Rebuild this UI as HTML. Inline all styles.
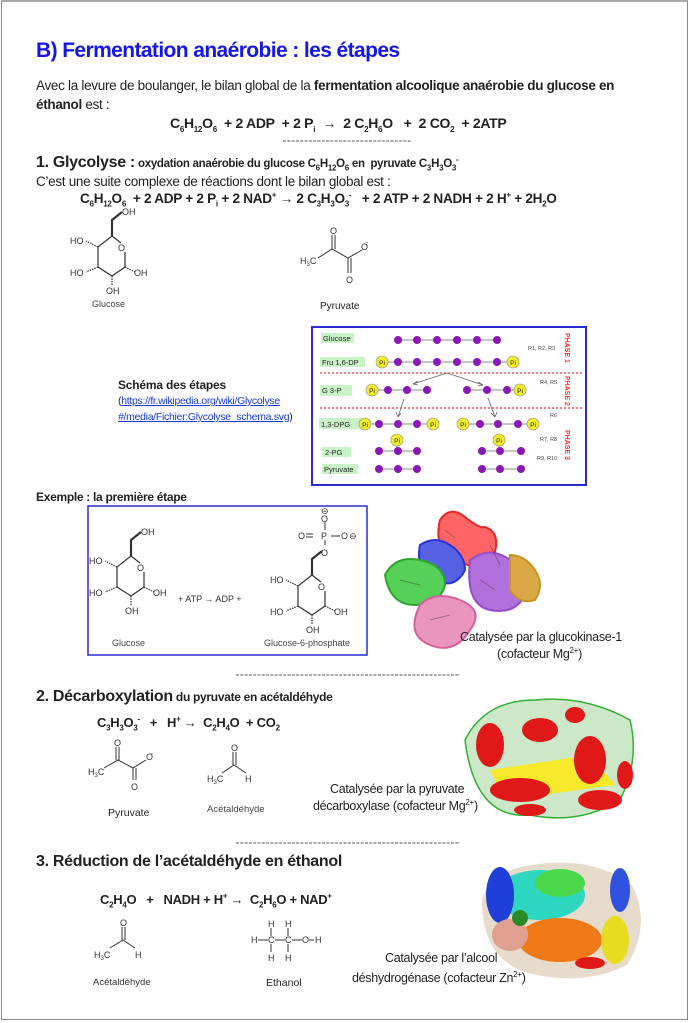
<!DOCTYPE html>
<html><head><meta charset="utf-8"><style>
body{margin:0;width:691px;height:1023px;background:#fff;position:relative;overflow:hidden;font-family:"Liberation Sans",sans-serif;color:#222}
.t{position:absolute;white-space:nowrap;font-size:12px;line-height:1}
.b{font-weight:bold}
sub,sup{font-size:8px;line-height:0}
svg text{font-family:"Liberation Sans",sans-serif}
</style></head><body>
<div style="position:absolute;left:1px;top:0;width:687px;height:1020px;border:1px solid #888;border-top:2px solid #aaa;box-sizing:border-box"></div>

<div class="t b" style="left:36px;top:40px;font-size:21px;color:#1515f0;letter-spacing:-0.6px">B) Fermentation anaérobie : les étapes</div>
<div class="t" style="left:36px;top:79px;font-size:13.5px;letter-spacing:-0.3px">Avec la levure de boulanger, le bilan global de la <b>fermentation alcoolique anaérobie du glucose en</b></div>
<div class="t" style="left:36px;top:98px;font-size:13.5px;letter-spacing:-0.3px"><b>éthanol</b> est :</div>
<div class="t b" style="left:170px;top:116px;font-size:14px;letter-spacing:-0.3px">C<sub>6</sub>H<sub>12</sub>O<sub>6</sub> &nbsp;+ 2 ADP &nbsp;+ 2 P<sub>i</sub> &nbsp;→ &nbsp;2 C<sub>2</sub>H<sub>6</sub>O &nbsp; + &nbsp;2 CO<sub>2</sub> &nbsp;+ 2ATP</div>

<div class="t" style="left:36px;top:155px;letter-spacing:-0.3px"><b style="font-size:16px">1. Glycolyse :</b> <b style="font-size:11.5px">oxydation anaérobie du glucose C<sub>6</sub>H<sub>12</sub>O<sub>6</sub> en &nbsp;pyruvate C<sub>3</sub>H<sub>3</sub>O<sub>3</sub><sup>-</sup></b></div>
<div class="t" style="left:36px;top:175px;font-size:13.5px;letter-spacing:-0.3px">C’est une suite complexe de réactions dont le bilan global est :</div>
<div class="t b" style="left:80px;top:192px;font-size:13.6px;letter-spacing:-0.3px">C<sub>6</sub>H<sub>12</sub>O<sub>6</sub> &nbsp;+ 2 ADP + 2 P<sub>i</sub> + 2 NAD<sup>+</sup> → 2 C<sub>3</sub>H<sub>3</sub>O<sub>3</sub><sup>-</sup> &nbsp; + 2 ATP + 2 NADH + 2 H<sup>+</sup> + 2H<sub>2</sub>O</div>

<svg style="position:absolute;left:0;top:0" width="691" height="1023">
<defs>
<g id="gl" stroke="#333" stroke-width="1.2" fill="none">
<path d="M112,236 L121,243 M125,252 L125,267 L112,276 L98,267 L98,247 L112,236"/>
<path d="M112,236 L112,220 L122,212" stroke-width="2.2"/>
<path d="M98,247 L86,241 M98,267 L86,272 M125,267 L135,272 M112,276 L112,285" stroke-dasharray="1.5,1"/>
<text x="118" y="251" font-size="9" fill="#333" stroke="none">O</text>
<text x="70" y="244" font-size="9" fill="#333" stroke="none">HO</text>
<text x="70" y="276" font-size="9" fill="#333" stroke="none">HO</text>
<text x="134" y="276" font-size="9" fill="#333" stroke="none">OH</text>
<text x="106" y="294" font-size="9" fill="#333" stroke="none">OH</text>
</g>
</defs>
<g stroke="#555" stroke-width="1" stroke-dasharray="3,1.3"><line x1="283" y1="141" x2="411" y2="141"/><line x1="236" y1="675" x2="460" y2="675"/><line x1="236" y1="843" x2="460" y2="843"/></g>
<use href="#gl"/>
<text x="122" y="215" font-size="9" fill="#333">OH</text>
<text x="92" y="307" font-size="9" fill="#444">Glucose</text>
<!-- pyruvate -->
<g stroke="#333" stroke-width="1" fill="none">
<path d="M318,258 L332,249 L348,258 L362,250 M332,249 L332,235 M335,249 L335,235 M348,258 L348,273 M351,258 L351,273"/>
</g>
<g font-size="9" fill="#333"><text x="330" y="234">O</text><text x="361" y="250">O</text><text x="366" y="244" font-size="6">-</text><text x="346" y="283">O</text><text x="300" y="264">H<tspan font-size="6" dy="2">3</tspan><tspan dy="-2">C</tspan></text></g>
<text x="320" y="309" font-size="10" fill="#222">Pyruvate</text>

<!-- schema box -->
<rect x="312" y="327" width="274" height="158" fill="#fff" stroke="#2a2ad8" stroke-width="2"/>
<g fill="#c9f2c9"><rect x="321" y="333" width="33" height="10"/><rect x="320" y="357" width="45" height="10"/><rect x="320" y="385" width="32" height="11"/><rect x="319" y="418" width="42" height="11"/><rect x="322" y="447" width="29" height="10"/><rect x="322" y="464" width="36" height="10"/></g>
<g font-size="7.5" fill="#222"><text x="323" y="341">Glucose</text><text x="322" y="365">Fru 1,6-DP</text><text x="322" y="393">G 3-P</text><text x="321" y="427">1,3-DPG</text><text x="325" y="455">2-PG</text><text x="324" y="472">Pyruvate</text></g>
<g font-size="5.5" fill="#444"><text x="528" y="350">R1, R2, R3</text><text x="540" y="384">R4, R5</text><text x="550" y="417">R6</text><text x="540" y="441">R7, R8</text><text x="537" y="460">R9, R10</text></g>
<g stroke="#f33" stroke-width="1.2" stroke-dasharray="2,2"><line x1="320" y1="373" x2="582" y2="373"/><line x1="320" y1="408" x2="582" y2="408"/></g>
<g fill="#f33" font-size="7" font-weight="bold"><text transform="translate(565,333) rotate(90)">PHASE 1</text><text transform="translate(565,376) rotate(90)">PHASE 2</text><text transform="translate(565,430) rotate(90)">PHASE 3</text></g>
<g stroke="#666" stroke-width="0.8" fill="none"><path d="M398,340H497M382,362H513M372,390H427M467,390H520M365,424H433M463,424H533M379,451H417M482,451H521M379,469H417M482,469H521M397,440V451M499,440V451"/>
<path d="M447,373L413,384M447,373L483,385M404,399L398,417M488,398L495,417"/>
<path d="M413,384l5,-3M413,384l5,1M483,385l-5,-3M483,385l-5,1M398,417l-2,-5M398,417l3,-4M495,417l-4,-4M495,417l2,-5"/></g>
<g fill="#8a18b8">
<circle cx="398" cy="340" r="4"/><circle cx="417" cy="340" r="4"/><circle cx="437" cy="340" r="4"/><circle cx="457" cy="340" r="4"/><circle cx="477" cy="340" r="4"/><circle cx="497" cy="340" r="4"/>
<circle cx="398" cy="362" r="4"/><circle cx="417" cy="362" r="4"/><circle cx="437" cy="362" r="4"/><circle cx="457" cy="362" r="4"/><circle cx="477" cy="362" r="4"/><circle cx="497" cy="362" r="4"/>
<circle cx="388" cy="390" r="4"/><circle cx="407" cy="390" r="4"/><circle cx="427" cy="390" r="4"/><circle cx="467" cy="390" r="4"/><circle cx="487" cy="390" r="4"/><circle cx="507" cy="390" r="4"/>
<circle cx="379" cy="424" r="4"/><circle cx="398" cy="424" r="4"/><circle cx="417" cy="424" r="4"/><circle cx="480" cy="424" r="4"/><circle cx="498" cy="424" r="4"/><circle cx="518" cy="424" r="4"/>
<circle cx="379" cy="451" r="4"/><circle cx="398" cy="451" r="4"/><circle cx="417" cy="451" r="4"/><circle cx="482" cy="451" r="4"/><circle cx="500" cy="451" r="4"/><circle cx="521" cy="451" r="4"/>
<circle cx="379" cy="469" r="4"/><circle cx="398" cy="469" r="4"/><circle cx="417" cy="469" r="4"/><circle cx="482" cy="469" r="4"/><circle cx="500" cy="469" r="4"/><circle cx="521" cy="469" r="4"/>
</g>
<g fill="#f4ee2a" stroke="#888" stroke-width="0.6">
<circle cx="382" cy="362" r="6"/><circle cx="513" cy="362" r="6"/><circle cx="372" cy="390" r="6"/><circle cx="520" cy="390" r="6"/><circle cx="365" cy="424" r="6"/><circle cx="433" cy="424" r="6"/><circle cx="463" cy="424" r="6"/><circle cx="533" cy="424" r="6"/><circle cx="397" cy="440" r="6"/><circle cx="499" cy="440" r="6"/></g>
<g font-size="6.5" fill="#222" text-anchor="middle"><text x="382" y="365">Pi</text><text x="513" y="365">Pi</text><text x="372" y="393">Pi</text><text x="520" y="393">Pi</text><text x="365" y="427">Pi</text><text x="433" y="427">Pi</text><text x="463" y="427">Pi</text><text x="533" y="427">Pi</text><text x="397" y="443">Pi</text><text x="499" y="443">Pi</text></g>

<!-- example box -->
<rect x="88" y="506" width="279" height="149" fill="none" stroke="#2a2ad8" stroke-width="1.5"/>
<use href="#gl" transform="translate(19,320)"/>
<text x="141" y="535" font-size="9" fill="#333">OH</text>
<text x="112" y="646" font-size="9" fill="#444">Glucose</text>
<text x="178" y="602" font-size="9" fill="#333">+ ATP &#8594; ADP +</text>
<use href="#gl" transform="translate(200,339)"/>
<g stroke="#333" stroke-width="1" fill="none"><path d="M325,545 V540 M325,530 V522 M306,534 H313 M306,537 H313 M331,536 H340"/></g>
<g font-size="9" fill="#333"><text x="321" y="514">⊖</text><text x="321" y="522">O</text><text x="298" y="539">O</text><text x="321" y="539">P</text><text x="341" y="539">O</text><text x="349" y="539">⊖</text><text x="321" y="556">O</text></g>
<text x="264" y="646" font-size="9" fill="#444">Glucose-6-phosphate</text>

<!-- protein 1 -->
<g opacity="0.9" stroke-width="2" fill="none">
<path d="M440,520 q10,-15 25,-3 t20,10 q15,5 10,25 t-20,15 q-20,-5 -30,-15 t-5,-32z" stroke="#e01010" fill="#f55"/>
<path d="M420,545 q15,-10 30,0 t15,25 q-10,20 -30,10 t-15,-35z" stroke="#1520d0" fill="#4450e0"/>
<path d="M385,575 q10,-20 35,-15 t25,25 q-5,20 -30,20 t-30,-30z" stroke="#1a9a1a" fill="#4c4"/>
<path d="M470,560 q20,-15 40,0 t15,35 q-10,20 -35,15 t-20,-50z" stroke="#8a3ac0" fill="#a860d8"/>
<path d="M510,555 q15,0 25,15 t0,30 q-15,5 -25,-10z" stroke="#c08a10" fill="#d4a030"/>
<path d="M420,605 q15,-15 40,-5 t10,30 q-15,25 -40,15 t-10,-40z" stroke="#d05090" fill="#e88ab8"/>
</g>
<path d="M445,530 l10,8 M400,580 l20,5 M480,580 l15,10 M430,620 l20,-5 M490,545 l10,20" stroke="#333" stroke-width="1" opacity="0.4"/>

<!-- protein 2 -->
<g>
<path d="M465,740 q20,-40 70,-40 q50,-5 95,20 q10,40 -10,80 q-40,25 -90,15 q-55,5 -65,-75z" fill="#cde8c8" stroke="#33b033" stroke-width="1.5"/>
<path d="M490,770 l100,-15 l25,30 l-110,15z" fill="#f5e92a"/>
<g fill="#e01818"><ellipse cx="490" cy="745" rx="14" ry="22"/><ellipse cx="540" cy="730" rx="18" ry="12"/><ellipse cx="590" cy="760" rx="16" ry="24"/><ellipse cx="520" cy="790" rx="30" ry="12"/><ellipse cx="600" cy="800" rx="22" ry="10"/><ellipse cx="575" cy="715" rx="10" ry="8"/><ellipse cx="625" cy="775" rx="8" ry="14"/><ellipse cx="530" cy="810" rx="16" ry="6"/></g>
</g>

<!-- protein 3 -->
<g>
<path d="M482,900 q10,-30 50,-35 q60,-10 100,20 q20,40 -5,80 q-40,20 -90,10 q-55,-10 -55,-75z" fill="#e7dccb"/>
<ellipse cx="540" cy="895" rx="45" ry="25" fill="#2ed8c0"/>
<ellipse cx="560" cy="883" rx="25" ry="14" fill="#4ad84a"/>
<ellipse cx="500" cy="895" rx="14" ry="28" fill="#1e40d8"/>
<ellipse cx="620" cy="890" rx="10" ry="22" fill="#3050e0"/>
<ellipse cx="560" cy="940" rx="42" ry="22" fill="#f07a18"/>
<ellipse cx="615" cy="940" rx="14" ry="24" fill="#e6dc20"/>
<ellipse cx="510" cy="935" rx="18" ry="16" fill="#e0a090"/>
<ellipse cx="590" cy="963" rx="15" ry="6" fill="#e01818"/>
<ellipse cx="520" cy="918" rx="8" ry="8" fill="#2a8a2a"/>
</g>

<!-- section 2 structures -->
<g stroke="#333" stroke-width="1" fill="none"><path d="M104,768 L118,760 L133,768 L146,760 M116,760 V747 M119,760 V747 M133,768 V780 M136,768 V780"/>
<path d="M222,773 L234,765 L246,773 M233,765 V752 M236,765 V752"/></g>
<g font-size="9" fill="#333"><text x="114" y="746">O</text><text x="146" y="760">O</text><text x="151" y="755" font-size="6">-</text><text x="131" y="790">O</text><text x="88" y="775">H<tspan font-size="6" dy="2">3</tspan><tspan dy="-2">C</tspan></text>
<text x="231" y="751">O</text><text x="207" y="782">H<tspan font-size="6" dy="2">3</tspan><tspan dy="-2">C</tspan></text><text x="245" y="782">H</text></g>

<!-- section 3 structures -->
<g stroke="#333" stroke-width="1" fill="none"><path d="M110,948 L123,940 L135,948 M122,940 V927 M125,940 V927"/>
<path d="M258,940 H268 M275,940 H285 M292,940 H302 M309,940 H314 M271,928 V936 M271,944 V952 M288,928 V936 M288,944 V952"/></g>
<g font-size="9" fill="#333"><text x="120" y="926">O</text><text x="94" y="958">H<tspan font-size="6" dy="2">3</tspan><tspan dy="-2">C</tspan></text><text x="135" y="958">H</text>
<text x="268" y="927">H</text><text x="285" y="927">H</text><text x="251" y="943">H</text><text x="268" y="943">C</text><text x="285" y="943">C</text><text x="302" y="943">O</text><text x="315" y="943">H</text><text x="268" y="961">H</text><text x="285" y="961">H</text></g>
</svg>

<div class="t b" style="left:118px;top:379px;font-size:12px;letter-spacing:-0.2px">Schéma des étapes</div>
<div class="t" style="left:118px;top:396px;font-size:10.5px;letter-spacing:-0.3px">(<span style="color:#1a3ad8;text-decoration:underline">https://fr.wikipedia.org/wiki/Glycolyse</span></div>
<div class="t" style="left:118px;top:412px;font-size:10.5px;letter-spacing:-0.3px"><span style="color:#1a3ad8;text-decoration:underline">#/media/Fichier:Glycolyse_schema.svg</span>)</div>

<div class="t b" style="left:36px;top:491px;font-size:12px;letter-spacing:-0.3px">Exemple : la première étape</div>
<div class="t" style="left:460px;top:631px;font-size:12.5px;letter-spacing:-0.3px">Catalysée par la glucokinase-1</div>
<div class="t" style="left:497px;top:648px;font-size:12.5px;letter-spacing:-0.3px">(cofacteur Mg<sup>2+</sup>)</div>

<div class="t" style="left:36px;top:689px;letter-spacing:-0.3px"><b style="font-size:16px">2. Décarboxylation</b> <b style="font-size:12px">du pyruvate en acétaldéhyde</b></div>
<div class="t b" style="left:97px;top:716px;font-size:13px;letter-spacing:-0.3px">C<sub>3</sub>H<sub>3</sub>O<sub>3</sub><sup>-</sup> &nbsp; + &nbsp; H<sup>+</sup> → &nbsp;C<sub>2</sub>H<sub>4</sub>O &nbsp;+ CO<sub>2</sub></div>
<div class="t" style="left:108px;top:808px;font-size:10.5px">Pyruvate</div>
<div class="t" style="left:207px;top:805px;font-size:9.5px;color:#444">Acétaldéhyde</div>
<div class="t" style="left:330px;top:783px;font-size:12.5px;letter-spacing:-0.3px">Catalysée par la pyruvate</div>
<div class="t" style="left:313px;top:800px;font-size:12.5px;letter-spacing:-0.3px">décarboxylase (cofacteur Mg<sup>2+</sup>)</div>

<div class="t b" style="left:36px;top:854px;font-size:16px;letter-spacing:-0.3px">3. Réduction de l’acétaldéhyde en éthanol</div>
<div class="t b" style="left:100px;top:893px;font-size:13px;letter-spacing:-0.3px">C<sub>2</sub>H<sub>4</sub>O &nbsp; + &nbsp; NADH + H<sup>+</sup> → &nbsp;C<sub>2</sub>H<sub>6</sub>O + NAD<sup>+</sup></div>
<div class="t" style="left:93px;top:978px;font-size:9.5px;color:#333">Acétaldéhyde</div>
<div class="t" style="left:266px;top:978px;font-size:10.5px">Ethanol</div>
<div class="t" style="left:385px;top:952px;font-size:12.5px;letter-spacing:-0.3px">Catalysée par l’alcool</div>
<div class="t" style="left:352px;top:972px;font-size:12.5px;letter-spacing:-0.3px">déshydrogénase (cofacteur Zn<sup>2+</sup>)</div>
</body></html>
